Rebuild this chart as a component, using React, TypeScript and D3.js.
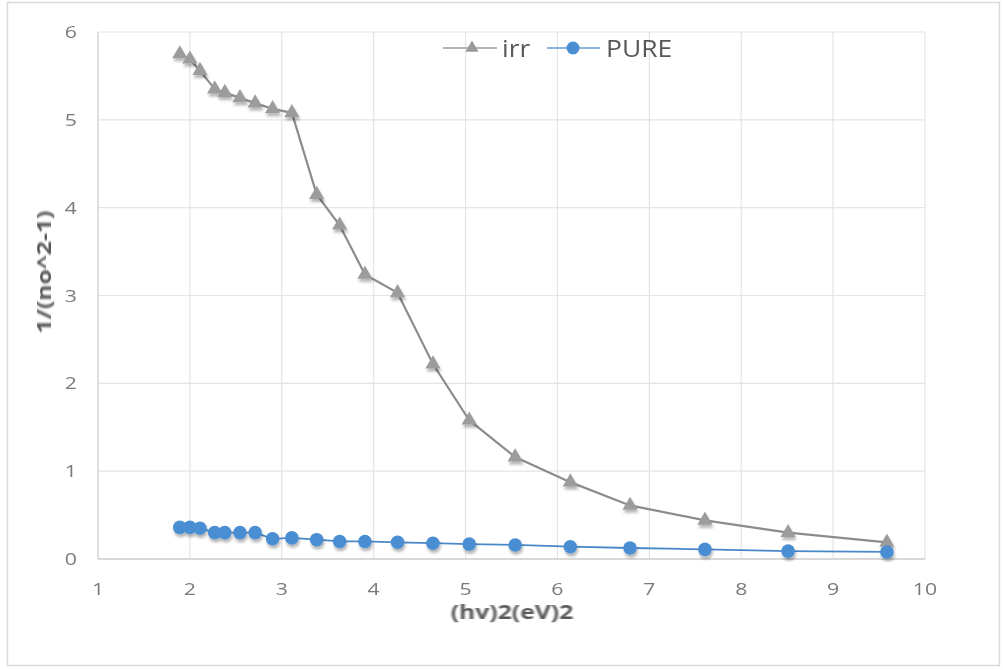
import React from "react";
import * as d3 from "d3";

// Photon energy squared (eV^2), shared by both series
const energySq = [1.89, 2.0, 2.11, 2.27, 2.38, 2.545, 2.71, 2.9, 3.11, 3.38, 3.63, 3.905, 4.26, 4.645, 5.04, 5.54, 6.14, 6.79, 7.605, 8.51, 9.585];
// 1/(n0^2 - 1) for the irradiated sample
const irrValues = [5.75, 5.69, 5.56, 5.35, 5.31, 5.25, 5.19, 5.125, 5.08, 4.15, 3.8, 3.24, 3.03, 2.22, 1.58, 1.16, 0.875, 0.61, 0.44, 0.3, 0.19];
// 1/(n0^2 - 1) for the pure sample
const pureValues = [0.36, 0.36, 0.35, 0.3, 0.3, 0.3, 0.3, 0.23, 0.24, 0.22, 0.2, 0.2, 0.19, 0.18, 0.17, 0.16, 0.14, 0.125, 0.11, 0.09, 0.08];

const xTicks = [1, 2, 3, 4, 5, 6, 7, 8, 9, 10];
const yTicks = [0, 1, 2, 3, 4, 5, 6];

const W = 1003;
const H = 670;
const FONT = "'Open Sans', 'Noto Sans', sans-serif";
// horizontal stretch applied to tick labels
const SX = 1.25;

export default function App() {
  const x = d3.scaleLinear().domain([1, 10]).range([98, 925]);
  const y = d3.scaleLinear().domain([0, 6]).range([559, 32]);

  const irr = energySq.map((e, i) => [e, irrValues[i]] as [number, number]);
  const pure = energySq.map((e, i) => [e, pureValues[i]] as [number, number]);

  const line = d3
    .line<[number, number]>()
    .x((d) => x(d[0]))
    .y((d) => y(d[1]));

  const tri = d3.symbol().type(d3.symbolTriangle).size(100)() as string;
  const triLegend = d3.symbol().type(d3.symbolTriangle).size(75)() as string;

  const irrColor = "#9c9c9c";
  const irrLine = "#8c8c8c";
  const pureColor = "#4a8ed2";
  const pureLine = "#4a88c8";

  return (
    <svg
      width={W}
      height={H}
      style={{ position: "absolute", left: 0, top: 0, background: "#fff" }}
      fontFamily={FONT}
    >
      <defs>
        <filter id="soft" x="-20%" y="-20%" width="140%" height="140%">
          <feGaussianBlur stdDeviation="0.7" />
        </filter>
        <filter id="shadow" x="-50%" y="-50%" width="200%" height="200%">
          <feGaussianBlur in="SourceAlpha" stdDeviation="1.8" />
          <feOffset dx="1" dy="2.5" result="b" />
          <feComponentTransfer>
            <feFuncA type="linear" slope="0.3" />
          </feComponentTransfer>
          <feMerge>
            <feMergeNode />
            <feMergeNode in="SourceGraphic" />
          </feMerge>
        </filter>
      </defs>

      {/* chart frame */}
      <rect x={7.5} y={2.5} width={992} height={663} fill="#fff" stroke="#d9d9d9" strokeWidth={1.5} />

      {/* gridlines */}
      <g stroke="#e4e4e4" strokeWidth={1.2}>
        {xTicks.map((t) => (
          <line key={"gx" + t} x1={x(t)} x2={x(t)} y1={y(6)} y2={y(0)} />
        ))}
        {yTicks.map((t) => (
          <line key={"gy" + t} x1={x(1)} x2={x(10)} y1={y(t)} y2={y(t)} />
        ))}
      </g>
      {/* axes */}
      <line x1={x(1)} x2={x(10)} y1={y(0)} y2={y(0)} stroke="#cfcfcf" strokeWidth={1.5} />
      <line x1={x(1)} x2={x(1)} y1={y(6)} y2={y(0)} stroke="#d6d6d6" strokeWidth={1.2} />

      {/* tick labels */}
      <g fill="#7a7a7a" fontSize={17} filter="url(#soft)">
        {xTicks.map((t) => (
          <text key={"tx" + t} transform={`translate(${x(t)},595) scale(${SX},1)`} textAnchor="middle">
            {t}
          </text>
        ))}
        {yTicks.map((t) => (
          <text key={"ty" + t} transform={`translate(77,${y(t) + 6}) scale(${SX},1)`} textAnchor="end">
            {t}
          </text>
        ))}
      </g>

      {/* axis titles */}
      <text
        transform={`translate(512,619) scale(1.3,1)`}
        textAnchor="middle"
        fontSize={19}
        fontWeight="bold"
        fill="#595959"
        filter="url(#soft)"
      >
        (hv)2(eV)2
      </text>
      <text
        transform={`translate(51,272) rotate(-90) scale(1.3,1)`}
        textAnchor="middle"
        fontSize={19}
        fontWeight="bold"
        fill="#595959"
        filter="url(#soft)"
      >
        1/(no^2-1)
      </text>

      {/* irr series */}
      <g filter="url(#soft)">
        <path d={line(irr) ?? ""} fill="none" stroke={irrLine} strokeWidth={2.2} />
        <g filter="url(#shadow)">
          {irr.map((d, i) => (
            <path key={"ti" + i} d={tri} transform={`translate(${x(d[0])},${y(d[1])})`} fill={irrColor} />
          ))}
        </g>
      </g>

      {/* PURE series */}
      <g filter="url(#soft)">
        <path d={line(pure) ?? ""} fill="none" stroke={pureLine} strokeWidth={1.8} />
        <g filter="url(#shadow)">
          {pure.map((d, i) => (
            <circle key={"cp" + i} cx={x(d[0])} cy={y(d[1])} r={6.8} fill={pureColor} />
          ))}
        </g>
      </g>

      {/* legend */}
      <g filter="url(#soft)">
        <line x1={443} x2={497} y1={48} y2={48} stroke="#b5b5b5" strokeWidth={2} />
        <path d={triLegend} transform="translate(472,48)" fill="#9a9a9a" />
        <text transform={`translate(502,57) scale(1.15,1)`} fontSize={23} fill="#595959">
          irr
        </text>
        <line x1={547} x2={600} y1={48} y2={48} stroke="#8ab2dd" strokeWidth={2} />
        <circle cx={573} cy={48} r={6.5} fill={pureColor} />
        <text transform={`translate(606,57) scale(1.15,1)`} fontSize={23} fill="#595959">
          PURE
        </text>
      </g>
    </svg>
  );
}
